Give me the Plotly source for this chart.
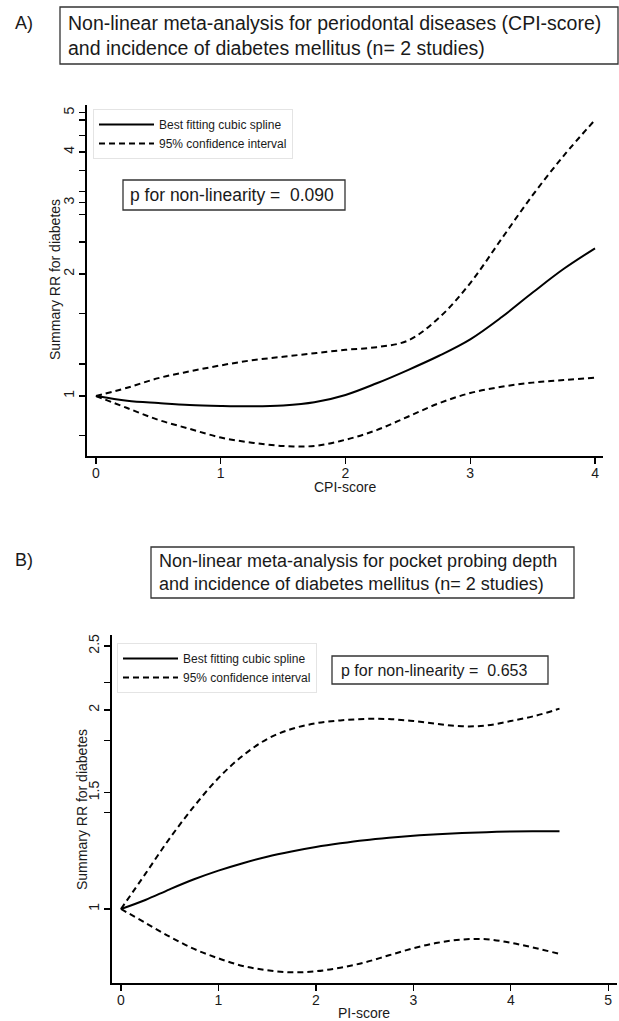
import plotly.graph_objects as go

W, H = 619, 1021

# ---------------- Data ----------------
# Panel A: CPI-score
cpi_score = [0, 0.25, 0.5, 0.75, 1, 1.25, 1.5, 1.75, 2, 2.25, 2.5, 2.75, 3, 3.25, 3.5, 3.75, 4]
rr_a = [1.0, 0.974, 0.961, 0.95, 0.945, 0.943, 0.948, 0.965, 1.006, 1.075, 1.159, 1.257, 1.38, 1.564, 1.80, 2.06, 2.314]
upper_a = [1.0, 1.048, 1.107, 1.15, 1.19, 1.225, 1.25, 1.275, 1.30, 1.32, 1.37, 1.56, 1.90, 2.44, 3.13, 3.92, 4.8]
lower_a = [1.0, 0.934, 0.873, 0.83, 0.79, 0.767, 0.753, 0.753, 0.78, 0.824, 0.889, 0.96, 1.017, 1.054, 1.079, 1.095, 1.11]

# Panel B: PI-score
pi_score = [0, 0.25, 0.5, 0.75, 1, 1.25, 1.5, 1.75, 2, 2.25, 2.5, 2.75, 3, 3.25, 3.5, 3.75, 4, 4.25, 4.5]
rr_b = [1.0, 1.032, 1.071, 1.109, 1.143, 1.173, 1.2, 1.222, 1.241, 1.257, 1.271, 1.282, 1.291, 1.298, 1.303, 1.307, 1.31, 1.311, 1.311]
upper_b = [1.0, 1.13, 1.279, 1.43, 1.578, 1.706, 1.808, 1.872, 1.91, 1.929, 1.939, 1.938, 1.925, 1.905, 1.89, 1.895, 1.925, 1.96, 2.01]
lower_b = [1.0, 0.953, 0.908, 0.87, 0.842, 0.82, 0.808, 0.802, 0.805, 0.815, 0.83, 0.851, 0.872, 0.889, 0.899, 0.90, 0.889, 0.873, 0.855]

# Tick definitions
xticks_a = [0, 1, 2, 3, 4]
yticks_a = [0.8, 1, 1.2, 1.6, 2, 2.4, 2.8, 3, 3.2, 3.6, 4, 4.4, 4.8, 5]
ytext_a = ["", "1", "", "", "2", "", "", "3", "", "", "4", "", "", "5"]
xticks_b = [0, 1, 2, 3, 4, 5]
yticks_b = [1, 1.4, 1.5, 1.8, 2, 2.2, 2.5]
ytext_b = ["1", "", "1.5", "", "2", "", "2.5"]

label_spline = "Best fitting cubic spline"
label_ci = "95% confidence interval"
title_a = "Non-linear meta-analysis for periodontal diseases (CPI-score)<br>and incidence of diabetes mellitus (n= 2 studies)"
title_b = "Non-linear meta-analysis for pocket probing depth<br>and incidence of diabetes mellitus (n= 2 studies)"
p_a = "p for non-linearity =\u00a0 0.090"
p_b = "p for non-linearity =\u00a0 0.653"

FONT = "Liberation Sans, Arial, Helvetica, sans-serif"
TXT = "#1a1a1a"


def px(x):
    return x / W


def py(y):
    return 1 - y / H


fig = go.Figure()

solid = dict(color="black", width=2, shape="spline", smoothing=1.0)
dashed = dict(color="black", width=2, dash="6px,4px", shape="spline", smoothing=1.0)

# Panel A
fig.add_trace(go.Scatter(x=cpi_score, y=rr_a, mode="lines", line=solid, name=label_spline,
                         xaxis="x", yaxis="y", legend="legend"))
fig.add_trace(go.Scatter(x=cpi_score, y=upper_a, mode="lines", line=dashed, name=label_ci,
                         xaxis="x", yaxis="y", legend="legend"))
fig.add_trace(go.Scatter(x=cpi_score, y=lower_a, mode="lines", line=dashed, name=label_ci,
                         showlegend=False, xaxis="x", yaxis="y"))
# Panel B
fig.add_trace(go.Scatter(x=pi_score, y=rr_b, mode="lines", line=solid, name=label_spline,
                         xaxis="x2", yaxis="y2", legend="legend2"))
fig.add_trace(go.Scatter(x=pi_score, y=upper_b, mode="lines", line=dashed, name=label_ci,
                         xaxis="x2", yaxis="y2", legend="legend2"))
fig.add_trace(go.Scatter(x=pi_score, y=lower_b, mode="lines", line=dashed, name=label_ci,
                         showlegend=False, xaxis="x2", yaxis="y2"))

axis_common = dict(showline=True, linecolor="black", linewidth=2, ticks="outside",
                   ticklen=6, tickwidth=1.3, tickcolor="black", showgrid=False,
                   zeroline=False, tickfont=dict(size=14, color=TXT, family=FONT))

legend_common = dict(xanchor="left", yanchor="top", bgcolor="white",
                     bordercolor="#e4e4e4", borderwidth=1,
                     font=dict(size=12, family=FONT, color=TXT), itemwidth=55,
                     tracegroupgap=0)

fig.update_layout(
    width=W, height=H,
    margin=dict(l=0, r=0, t=0, b=0),
    paper_bgcolor="white", plot_bgcolor="white",
    font=dict(family=FONT, color=TXT),
    xaxis=dict(domain=[px(87), px(603)], range=[-0.072, 4.064], tickvals=xticks_a,
               anchor="y", ticklabelstandoff=-3, **axis_common),
    yaxis=dict(domain=[py(456), py(105)], type="log", range=[-0.148, 0.718],
               tickvals=yticks_a, ticktext=ytext_a, tickangle=-90, anchor="x",
               ticklabelstandoff=-1, **axis_common),
    xaxis2=dict(domain=[px(112), px(617)], range=[-0.092, 5.09], tickvals=xticks_b,
                anchor="y2", ticklabelstandoff=-3, **axis_common),
    yaxis2=dict(domain=[py(983), py(635)], type="log", range=[-0.112, 0.4146],
                tickvals=yticks_b, ticktext=ytext_b, tickangle=-90, anchor="x2",
                ticklabelstandoff=-1, **axis_common),
    legend=dict(x=px(93), y=py(109), **legend_common),
    legend2=dict(x=px(117), y=py(643), **legend_common),
    showlegend=True,
)

box_line = dict(color="#333333", width=1.3)
for (x0, y0, x1, y1) in [(60, 7, 618, 64), (123, 180, 345, 210), (151, 547, 574, 598), (332, 656, 548, 684)]:
    fig.add_shape(type="rect", xref="paper", yref="paper", x0=px(x0), x1=px(x1),
                  y0=py(y1), y1=py(y0), line=box_line, fillcolor="rgba(0,0,0,0)")

ann = [
    dict(text="A)", x=px(13), y=py(23), xanchor="left", yanchor="middle", font=dict(size=18)),
    dict(text="B)", x=px(13), y=py(560), xanchor="left", yanchor="middle", font=dict(size=18)),
    dict(text=title_a, x=px(66), y=py(35.5), xanchor="left", yanchor="middle", align="left", font=dict(size=19.5)),
    dict(text=title_b, x=px(157), y=py(572.5), xanchor="left", yanchor="middle", align="left", font=dict(size=18)),
    dict(text=p_a, x=px(128), y=py(195), xanchor="left", yanchor="middle", font=dict(size=17.5)),
    dict(text=p_b, x=px(339), y=py(670), xanchor="left", yanchor="middle", font=dict(size=16)),
    dict(text="CPI-score", x=px(345), y=py(487), xanchor="center", yanchor="middle", font=dict(size=14)),
    dict(text="PI-score", x=px(364), y=py(1013), xanchor="center", yanchor="middle", font=dict(size=14)),
    dict(text="Summary RR for diabetes", x=px(55), y=py(280), xanchor="center", yanchor="middle",
         textangle=-90, font=dict(size=14)),
    dict(text="Summary RR for diabetes", x=px(82), y=py(810), xanchor="center", yanchor="middle",
         textangle=-90, font=dict(size=14)),
]
for a in ann:
    a.setdefault("font", {})
    a["font"].update(family=FONT, color=TXT)
    fig.add_annotation(xref="paper", yref="paper", showarrow=False, **a)

fig.write_html(
    "out.html",
    config={"displayModeBar": False, "staticPlot": True},
    post_script="document.documentElement.style.margin='0';document.body.style.margin='0';"
                "document.body.style.overflow='hidden';",
)
